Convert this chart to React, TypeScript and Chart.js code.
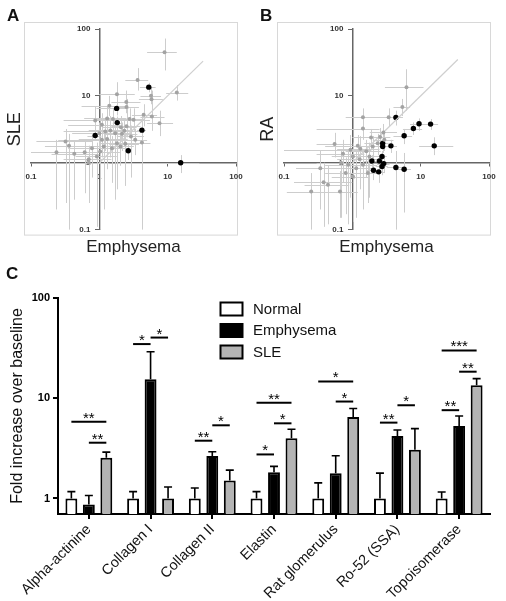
import React, { useEffect, useRef } from 'react';
import { Chart, registerables } from 'chart.js';

Chart.register(...registerables);

const FONT = "'Liberation Sans', Arial, Helvetica, sans-serif";

// ---------- Panel C (bar chart) data ----------
const categories = ['Alpha-actinine', 'Collagen I', 'Collagen II', 'Elastin', 'Rat glomerulus', 'Ro-52 (SSA)', 'Topoisomerase'];
const normalValues = [1, 1, 1, 1, 1, 1, 1];
const normalErrors = [1.17, 1.17, 1.27, 1.17, 1.43, 1.79, 1.16];
const emphysemaValues = [0.87, 15.5, 2.65, 1.83, 1.79, 4.2, 5.29];
const emphysemaErrors = [1.07, 29.1, 2.93, 2.09, 2.67, 4.82, 6.66];
const sleValues = [2.55, 1, 1.51, 3.98, 6.5, 3.07, 13.5];
const sleErrors = [2.9, 1.3, 1.92, 4.9, 7.9, 4.97, 15.7];
const barYTicks = [1, 10, 100];
// [category, from series, to series, height, label]
const significance: [number, number, number, number, string][] = [
  [0, 0, 2, 5.84, '**'], [0, 1, 2, 3.6, '**'],
  [1, 0, 1, 34.7, '*'], [1, 1, 2, 40.3, '*'],
  [2, 0, 1, 3.77, '**'], [2, 1, 2, 5.37, '*'],
  [3, 0, 1, 2.75, '*'], [3, 0, 2, 9.04, '**'], [3, 1, 2, 5.62, '*'],
  [4, 0, 2, 14.7, '*'], [4, 1, 2, 9.27, '*'],
  [5, 0, 1, 5.71, '**'], [5, 1, 2, 8.51, '*'],
  [6, 0, 2, 30, '***'], [6, 1, 2, 18.4, '**'], [6, 0, 1, 7.6, '**'],
];

// ---------- Panels A / B (scatter) data ----------
const scatterTicks = [0.1, 1, 10, 100];
const diagonalA = [1, 33];
const diagonalB = [1, 35];
// [x, y, xLow, xHigh, yLow, yHigh]
const panelAGray: number[][] = [
  [9.0, 44.9, 5.0, 13.6, 24, 72], [13.6, 11.2, 9.5, 20, 8.5, 14.5], [3.63, 17.3, 2.4, 5.2, 12, 26],
  [5.7, 10, 4.0, 8.0, 7.5, 13], [5.8, 8.9, 3.8, 8.5, 6.5, 12], [1.81, 10.6, 1.0, 3.3, 7, 16],
  [2.48, 8.1, 1.5, 4.0, 5.5, 12], [1.4, 7.1, 0.55, 2.4, 5, 10], [2.5, 6.8, 1.7, 3.8, 4.5, 9],
  [0.87, 4.3, 0.3, 1.8, 2.5, 7], [1.3, 4.6, 0.6, 2.5, 3, 7], [1.58, 4.5, 0.9, 3.0, 2.8, 6.5],
  [1.09, 3.7, 0.35, 2.0, 2, 5.5], [2.07, 3.4, 1.1, 3.5, 2.2, 5], [2.5, 3.5, 1.5, 4.0, 2.4, 5],
  [3.17, 4.4, 2.0, 5.5, 3, 6.5], [4.45, 5.2, 3.0, 7.0, 3.5, 7.5], [5.87, 4.9, 4.0, 9.0, 3, 7],
  [7.6, 3.9, 5.0, 12, 2.5, 6], [2.77, 4.5, 1.6, 4.5, 3, 6.5], [1.22, 2.94, 0.3, 2.5, 1.5, 4.5],
  [1.45, 3.04, 0.7, 2.8, 1.2, 5], [1.71, 2.77, 1.0, 3.0, 0.28, 4.5], [2.14, 2.71, 1.2, 3.6, 1.5, 4],
  [2.32, 3.0, 1.3, 3.8, 1.8, 4.5], [2.9, 2.47, 1.8, 4.5, 0.6, 3.6], [3.35, 2.2, 2.2, 5.0, 1.3, 3.2],
  [1.3, 2.26, 0.5, 2.6, 0.8, 3.5], [1.81, 1.96, 1.0, 3.0, 0.4, 3], [2.4, 1.92, 1.4, 3.8, 0.45, 2.8],
  [1.16, 1.75, 0.5, 2.2, 0.2, 2.8], [1.53, 1.65, 0.8, 2.6, 0.5, 2.5], [2.03, 1.75, 1.2, 3.2, 0.9, 2.6],
  [0.32, 2.08, 0.12, 0.8, 0.25, 3.2], [0.36, 1.79, 0.16, 0.9, 0.1, 2.7], [0.236, 1.43, 0.1, 0.6, 0.2, 2.2],
  [0.43, 1.36, 0.2, 1.0, 0.28, 2.1], [0.61, 1.43, 0.3, 1.3, 0.35, 2.2], [0.78, 1.65, 0.35, 1.6, 0.6, 2.6],
  [0.7, 1.13, 0.3, 1.5, 0.25, 1.8], [0.92, 1.24, 0.45, 1.8, 0.11, 2], [1.03, 1.47, 0.4, 2.0, 0.1, 2.3],
  [1.09, 2.2, 0.25, 2.2, 1.2, 3.4], [1.0, 2.77, 0.4, 2.0, 1.6, 4], [0.7, 1.0, 0.35, 1.4, 0.6, 1.5],
  [4.2, 2.0, 3.0, 5.6, 0.1, 3.2],
];
const panelBGray: number[][] = [
  [6.2, 13.5, 3.0, 11, 6, 25], [5.4, 6.8, 4.0, 7, 5, 9], [3.4, 4.8, 2.0, 5, 3.5, 6.5],
  [2.85, 2.84, 1.8, 4.5, 2, 3.8], [1.43, 4.8, 0.8, 2.5, 3.3, 6.5], [1.43, 3.25, 0.3, 2.5, 2.2, 4.5],
  [1.88, 2.39, 1.0, 3, 1.6, 3.2], [1.31, 1.62, 0.6, 2.5, 0.9, 2.5], [0.94, 1.56, 0.1, 1.9, 0.3, 2.6],
  [0.73, 1.36, 0.3, 1.5, 0.5, 2.2], [1.02, 1.24, 0.5, 2, 0.2, 2], [1.28, 1.13, 0.6, 2.3, 0.4, 1.8],
  [1.6, 1.48, 0.8, 2.6, 0.6, 2.2], [1.78, 1.24, 1.0, 2.8, 0.3, 2], [1.43, 0.93, 0.7, 2.3, 0.2, 1.6],
  [1.14, 0.83, 0.5, 2.0, 0.15, 1.5], [0.87, 0.93, 0.4, 1.6, 0.12, 1.6], [0.69, 0.99, 0.3, 1.3, 0.15, 1.6],
  [0.34, 0.83, 0.15, 0.9, 0.2, 1.5], [0.38, 0.51, 0.14, 1.0, 0.11, 1.0], [0.44, 0.47, 0.2, 0.9, 0.12, 0.9],
  [0.25, 0.37, 0.11, 0.73, 0.1, 0.7], [0.66, 0.37, 0.3, 1.2, 0.15, 0.75], [0.8, 0.70, 0.4, 1.5, 0.17, 1.2],
  [1.02, 0.62, 0.5, 1.8, 0.13, 1.1], [1.69, 0.70, 0.9, 2.6, 0.25, 1.2], [1.99, 1.75, 1.2, 3, 1.1, 2.5],
  [2.35, 1.96, 1.5, 3.3, 1.3, 2.7], [2.94, 2.2, 2, 4, 1.5, 3], [2.55, 2.42, 1.6, 3.6, 1.7, 3.3],
  [1.2, 1.8, 0.4, 2.2, 1.2, 2.6], [0.55, 1.9, 0.3, 1.0, 1.2, 2.8],
];
const panelBBlack: number[][] = [
  [4.34, 4.75, 3.3, 5.5, 3.6, 6], [7.83, 3.25, 5.5, 10.5, 2.6, 4], [9.46, 3.82, 7, 12, 3, 4.6],
  [13.96, 3.78, 10, 18, 3.1, 4.5], [5.73, 2.53, 4, 7.5, 1.9, 3.2], [2.78, 1.75, 2.2, 3.4, 1.4, 2.1],
  [2.78, 1.95, 2.2, 3.4, 1.6, 2.3], [3.67, 1.79, 2.8, 4.5, 1.4, 2.2], [15.8, 1.79, 9.5, 30, 1.3, 2.4],
  [2.72, 1.24, 2.2, 3.2, 1.0, 1.5], [1.93, 1.06, 1.5, 2.4, 0.85, 1.3], [2.49, 1.06, 2.0, 3.0, 0.85, 1.3],
  [2.88, 0.97, 2.3, 3.5, 0.7, 1.25], [2.72, 0.88, 2.2, 3.3, 0.65, 1.1], [4.34, 0.85, 3.2, 5.6, 0.1, 1.5],
  [5.73, 0.80, 4.3, 7.2, 0.18, 1.4], [2.04, 0.77, 1.6, 2.5, 0.55, 1.0], [2.43, 0.73, 1.9, 3.0, 0.5, 0.95],
];
// Panel A black points: Emphysema vs SLE (same antigens as panel C)
const panelABlack: number[][] = emphysemaValues.map((x, i) => [
  x, sleValues[i],
  Math.max(2 * x - emphysemaErrors[i], 0.11), emphysemaErrors[i],
  Math.max(2 * sleValues[i] - sleErrors[i], 0.11), sleErrors[i],
]);

// ---------- plugins ----------
const framePlugin = {
  id: 'frame',
  beforeDraw(chart: any) {
    const { ctx, chartArea: a } = chart;
    ctx.save();
    ctx.strokeStyle = '#d8d8d8';
    ctx.lineWidth = 1;
    ctx.strokeRect(a.left - 6.5, a.top - 6.5, a.right - a.left + 8, a.bottom - a.top + 12);
    ctx.restore();
  },
};

const scatterErrorPlugin = {
  id: 'scatterErrors',
  beforeDatasetsDraw(chart: any) {
    const { ctx } = chart;
    const xs = chart.scales.x;
    const ys = chart.scales.y;
    ctx.save();
    ctx.lineWidth = 1;
    chart.data.datasets.forEach((ds: any) => {
      if (!ds.errors) return;
      ctx.strokeStyle = ds.errorColor;
      ds.errors.forEach((e: any, j: number) => {
        const p = ds.data[j];
        const px = Math.round(xs.getPixelForValue(p.x)) + 0.5;
        const py = Math.round(ys.getPixelForValue(p.y)) + 0.5;
        ctx.beginPath();
        ctx.moveTo(xs.getPixelForValue(e.xlo), py);
        ctx.lineTo(xs.getPixelForValue(e.xhi), py);
        ctx.moveTo(px, ys.getPixelForValue(e.ylo));
        ctx.lineTo(px, ys.getPixelForValue(e.yhi));
        ctx.stroke();
      });
    });
    ctx.restore();
  },
};

const barExtrasPlugin = {
  id: 'barExtras',
  afterDatasetsDraw(chart: any) {
    const { ctx } = chart;
    const ys = chart.scales.y;
    ctx.save();
    // error bars (upper only)
    ctx.strokeStyle = '#000';
    ctx.lineWidth = 1.6;
    chart.data.datasets.forEach((ds: any, i: number) => {
      const meta = chart.getDatasetMeta(i);
      ds.errors.forEach((err: number, j: number) => {
        const el = meta.data[j];
        const yErr = ys.getPixelForValue(err);
        ctx.beginPath();
        ctx.moveTo(el.x, el.y);
        ctx.lineTo(el.x, yErr);
        ctx.moveTo(el.x - 4, yErr);
        ctx.lineTo(el.x + 4, yErr);
        ctx.stroke();
      });
    });
    // significance brackets
    ctx.lineWidth = 2;
    ctx.fillStyle = '#000';
    ctx.font = `15px ${FONT}`;
    ctx.textAlign = 'center';
    ctx.textBaseline = 'alphabetic';
    significance.forEach(([c, a, b, v, label]) => {
      const xa = chart.getDatasetMeta(a).data[c].x;
      const xb = chart.getDatasetMeta(b).data[c].x;
      const y = ys.getPixelForValue(v);
      ctx.beginPath();
      ctx.moveTo(xa, y);
      ctx.lineTo(xb, y);
      ctx.stroke();
      ctx.fillText(label, (xa + xb) / 2, y + 1);
    });
    // legend
    ctx.textAlign = 'left';
    ctx.textBaseline = 'middle';
    ctx.font = `15px ${FONT}`;
    chart.data.datasets.forEach((ds: any, i: number) => {
      const bx = 220.5;
      const by = 32.5 + i * 21.5;
      ctx.fillStyle = ds.backgroundColor;
      ctx.fillRect(bx, by, 22, 13);
      ctx.lineWidth = 2;
      ctx.strokeStyle = '#000';
      ctx.strokeRect(bx, by, 22, 13);
      ctx.fillStyle = '#111';
      ctx.fillText(ds.label, 253, by + 7);
    });
    ctx.restore();
  },
};

// ---------- components ----------
const toPoints = (pts: number[][]) => pts.map((p) => ({ x: p[0], y: p[1] }));
const toErrors = (pts: number[][]) => pts.map((p) => ({ xlo: p[2], xhi: p[3], ylo: p[4], yhi: p[5] }));

function ScatterPanel(props: { gray: number[][]; black: number[][]; diag: number[]; yTitle: string; left: number }) {
  const ref = useRef<HTMLCanvasElement>(null);
  useEffect(() => {
    const logAxisTicks = (s: any) => {
      s.ticks = scatterTicks.map((v) => ({ value: v }));
    };
    const tickFont = { size: 8, weight: 'bold' as const, family: FONT };
    const chart = new Chart(ref.current!, {
      type: 'scatter',
      data: {
        datasets: [
          {
            data: toPoints(props.gray),
            errors: toErrors(props.gray),
            errorColor: '#cdcdcd',
            pointRadius: 2,
            pointBackgroundColor: '#a3a3a3',
            pointBorderWidth: 0,
            xAxisID: 'x',
            yAxisID: 'y',
          } as any,
          {
            data: props.diag.map((v) => ({ x: v, y: v })),
            showLine: true,
            pointRadius: 0,
            borderColor: '#cfcfcf',
            borderWidth: 1.2,
            xAxisID: 'x',
            yAxisID: 'y',
          } as any,
          {
            data: toPoints(props.black),
            errors: toErrors(props.black),
            errorColor: '#cdcdcd',
            pointRadius: 2.7,
            pointBackgroundColor: '#000',
            pointBorderWidth: 0,
            xAxisID: 'x',
            yAxisID: 'y',
          } as any,
        ],
      },
      options: {
        animation: false,
        responsive: false,
        events: [],
        devicePixelRatio: 1,
        layout: { padding: { left: 0, right: 17, top: 29, bottom: 8 } },
        plugins: { legend: { display: false }, tooltip: { enabled: false } },
        scales: {
          x: {
            type: 'logarithmic',
            min: 0.1,
            max: 100,
            position: { y: 1 } as any,
            afterBuildTicks: logAxisTicks,
            ticks: { callback: (v: any) => String(v), font: tickFont, color: '#333', autoSkip: false, maxRotation: 0, padding: 6 },
            grid: { display: true, drawOnChartArea: false, drawTicks: true, tickLength: 3, color: '#666', lineWidth: 1 },
            border: { display: true, color: '#666', width: 1.5 },
          },
          y: {
            type: 'logarithmic',
            min: 0.1,
            max: 100,
            position: { x: 1 } as any,
            afterBuildTicks: logAxisTicks,
            // labels of an axis placed at a value are right-aligned on the axis line; trailing spaces keep them clear of it
            ticks: { callback: (v: any) => String(v) + '    ', font: tickFont, color: '#333', autoSkip: false, padding: 6 },
            grid: { display: true, drawOnChartArea: false, drawTicks: true, tickLength: 4, color: '#666', lineWidth: 1 },
            border: { display: true, color: '#666', width: 1.5 },
          },
          xt: {
            type: 'linear',
            position: 'bottom',
            ticks: { display: false },
            grid: { display: false, drawTicks: false },
            border: { display: false },
            title: { display: true, text: 'Emphysema', color: '#222', font: { size: 17, family: FONT }, padding: { top: 8, bottom: 4 } },
          },
          yt: {
            type: 'linear',
            position: 'left',
            ticks: { display: false },
            grid: { display: false, drawTicks: false },
            border: { display: false },
            title: { display: true, text: props.yTitle, color: '#222', font: { size: 18, family: FONT }, padding: { top: 4, bottom: 5.4 } },
          },
        } as any,
      },
      plugins: [framePlugin, scatterErrorPlugin],
    } as any);
    return () => chart.destroy();
  }, []);
  return (
    <canvas
      ref={ref}
      width={253}
      height={270}
      style={{ position: 'absolute', left: props.left, top: 0, width: 253, height: 270 }}
    />
  );
}

function BarPanel() {
  const ref = useRef<HTMLCanvasElement>(null);
  useEffect(() => {
    const chart = new Chart(ref.current!, {
      type: 'bar',
      data: {
        labels: categories,
        datasets: [
          { label: 'Normal', data: normalValues, errors: normalErrors, backgroundColor: '#ffffff', borderColor: '#000', borderWidth: 2 } as any,
          { label: 'Emphysema', data: emphysemaValues, errors: emphysemaErrors, backgroundColor: '#000000', borderColor: '#000', borderWidth: 2 } as any,
          { label: 'SLE', data: sleValues, errors: sleErrors, backgroundColor: '#b4b4b4', borderColor: '#000', borderWidth: 2 } as any,
        ],
      },
      options: {
        animation: false,
        responsive: false,
        events: [],
        devicePixelRatio: 1,
        categoryPercentage: 0.85,
        barPercentage: 0.68,
        layout: { padding: { left: 4, right: 16, top: 28, bottom: 0 } },
        plugins: { legend: { display: false }, tooltip: { enabled: false } },
        scales: {
          x: {
            ticks: { font: { size: 14.5, family: FONT }, color: '#111', minRotation: 45, maxRotation: 45, autoSkip: false, padding: 2 },
            grid: { display: true, drawOnChartArea: false, offset: false, drawTicks: true, tickLength: 5, color: '#000', lineWidth: 2 },
            border: { display: true, color: '#000', width: 2 },
            afterFit: (s: any) => {
              s.height = 87;
            },
          },
          y: {
            type: 'logarithmic',
            min: 0.705,
            max: 100,
            afterBuildTicks: (s: any) => {
              s.ticks = barYTicks.map((v) => ({ value: v }));
            },
            ticks: { callback: (v: any) => String(v), font: { size: 11, weight: 'bold', family: FONT }, color: '#000', padding: 3 },
            grid: { display: true, drawOnChartArea: false, drawTicks: true, tickLength: 5, color: '#000', lineWidth: 2 },
            border: { display: true, color: '#000', width: 2 },
            title: { display: true, text: 'Fold increase over baseline', color: '#111', font: { size: 16, family: FONT }, padding: { top: 4, bottom: 2 } },
            afterFit: (s: any) => {
              s.width = 54;
            },
          },
        } as any,
      },
      plugins: [barExtrasPlugin],
    } as any);
    return () => chart.destroy();
  }, []);
  return (
    <canvas
      ref={ref}
      width={506}
      height={331}
      style={{ position: 'absolute', left: 0, top: 270, width: 506, height: 331 }}
    />
  );
}

const letterStyle: React.CSSProperties = {
  position: 'absolute',
  fontFamily: FONT,
  fontWeight: 'bold',
  fontSize: 17,
  lineHeight: '20px',
  color: '#111',
};

export default function App() {
  return (
    <div style={{ position: 'fixed', left: 0, top: 0, width: 506, height: 601, background: '#fff', overflow: 'hidden' }}>
      <ScatterPanel gray={panelAGray} black={panelABlack} diag={diagonalA} yTitle="SLE" left={0} />
      <ScatterPanel gray={panelBGray} black={panelBBlack} diag={diagonalB} yTitle="RA" left={253} />
      <BarPanel />
      <div style={{ ...letterStyle, left: 7, top: 6 }}>A</div>
      <div style={{ ...letterStyle, left: 260, top: 6 }}>B</div>
      <div style={{ ...letterStyle, left: 6, top: 264 }}>C</div>
    </div>
  );
}
